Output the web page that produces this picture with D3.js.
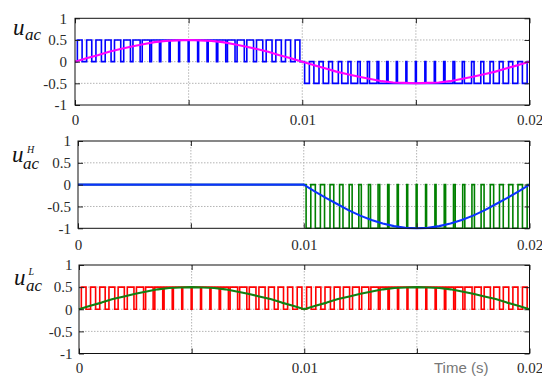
<!DOCTYPE html>
<html>
<head>
<meta charset="utf-8">
<script src="https://cdn.jsdelivr.net/npm/d3@7"></script>
<style>
  html, body { margin: 0; padding: 0; background: #fff; }
  svg { display: block; }
  .tick text { font-family: "Liberation Serif", "Times New Roman", serif; font-size: 15px; fill: #2a2a2a; }
  .ylab { font-family: "Liberation Serif", "Times New Roman", serif; font-style: italic; fill: #111; }
</style>
</head>
<body>
<svg id="chart" width="542" height="376"></svg>
<script>
// ---- data -------------------------------------------------------------
const xTicks = [0, 0.005, 0.01, 0.015, 0.02];
const xTickLabels = ["0", "", "0.01", "", "0.02"];
const yTicks = [-1, -0.5, 0, 0.5, 1];
const yTickLabels = ["-1", "-0.5", "0", "0.5", "1"];

// sample instants of the reference waveforms (s)
const refTime = d3.range(41).map(i => i * 0.0005);

// u_ac reference (half-amplitude sine)
const uacRef = [0, 0.08, 0.15, 0.23, 0.29, 0.35, 0.40, 0.45, 0.48, 0.49, 0.50,
                0.49, 0.48, 0.45, 0.40, 0.35, 0.29, 0.23, 0.15, 0.08, 0,
                -0.08, -0.15, -0.23, -0.29, -0.35, -0.40, -0.45, -0.48, -0.49, -0.50,
                -0.49, -0.48, -0.45, -0.40, -0.35, -0.29, -0.23, -0.15, -0.08, 0];
// u_ac^H reference (zero, then negative full half-wave)
const uacHRef = [0, 0, 0, 0, 0, 0, 0, 0, 0, 0, 0,
                 0, 0, 0, 0, 0, 0, 0, 0, 0, 0,
                 -0.16, -0.31, -0.45, -0.59, -0.71, -0.81, -0.89, -0.95, -0.99, -1,
                 -0.99, -0.95, -0.89, -0.81, -0.71, -0.59, -0.45, -0.31, -0.16, 0];
// u_ac^L reference (rectified half-amplitude sine)
const uacLRef = [0, 0.08, 0.15, 0.23, 0.29, 0.35, 0.40, 0.45, 0.48, 0.49, 0.50,
                 0.49, 0.48, 0.45, 0.40, 0.35, 0.29, 0.23, 0.15, 0.08, 0,
                 0.08, 0.15, 0.23, 0.29, 0.35, 0.40, 0.45, 0.48, 0.49, 0.50,
                 0.49, 0.48, 0.45, 0.40, 0.35, 0.29, 0.23, 0.15, 0.08, 0];

// PWM: fraction of each carrier period spent at the active level
const uacDuty1 = [0.50, 0.54, 0.58, 0.62, 0.66, 0.71, 0.76, 0.80, 0.84, 0.87, 0.89, 0.90,
                  0.90, 0.89, 0.87, 0.84, 0.80, 0.76, 0.71, 0.66, 0.62, 0.58, 0.54, 0.50];
const uacDuty2 = [0.50, 0.54, 0.58, 0.62, 0.66, 0.71, 0.76, 0.80, 0.84, 0.87, 0.89, 0.90,
                  0.90, 0.89, 0.87, 0.84, 0.80, 0.76, 0.71, 0.66, 0.62, 0.58, 0.54, 0.50];
const uacHDuty2 = [0.50, 0.54, 0.58, 0.62, 0.66, 0.71, 0.76, 0.80, 0.84, 0.87, 0.89, 0.90,
                   0.90, 0.89, 0.87, 0.84, 0.80, 0.76, 0.71, 0.66, 0.62, 0.58, 0.54, 0.50];
const uacLDuty1 = [0.50, 0.54, 0.58, 0.62, 0.66, 0.71, 0.76, 0.80, 0.84, 0.87, 0.89, 0.90,
                   0.90, 0.89, 0.87, 0.84, 0.80, 0.76, 0.71, 0.66, 0.62, 0.58, 0.54, 0.50];
const uacLDuty2 = [0.50, 0.54, 0.58, 0.62, 0.66, 0.71, 0.76, 0.80, 0.84, 0.87, 0.89, 0.90,
                   0.90, 0.89, 0.87, 0.84, 0.80, 0.76, 0.71, 0.66, 0.62, 0.58, 0.54, 0.50];

// PWM segments: [start, end, active level, duty list]
const uacPwm  = [[0, 0.01, 0.5, uacDuty1], [0.01, 0.02, -0.5, uacDuty2]];
const uacHPwm = [[0, 0.01, 0, uacDuty1], [0.01, 0.02, -1, uacHDuty2]];
const uacLPwm = [[0, 0.01, 0.5, uacLDuty1], [0.01, 0.02, 0.5, uacLDuty2]];

// ---- drawing ----------------------------------------------------------
const svg = d3.select("#chart");

const panels = [
  { box: [75, 529.5, 18.3, 105], xPad: 9.5, yPad: 8,
    pwm: uacPwm, pwmColor: "#0000ff", ref: uacRef, refColor: "#ff00ff",
    label: { u: [13, 35], ac: [25, 40], sup: null } },
  { box: [78, 529.5, 141, 228.3], xPad: 11, yPad: 7,
    pwm: uacHPwm, pwmColor: "#008000", ref: uacHRef, refColor: "#0a32ff",
    label: { u: [12, 162], ac: [23, 169], sup: ["H", 27, 153] } },
  { box: [79, 529.5, 265, 353.5], xPad: 9, yPad: 6.5,
    pwm: uacLPwm, pwmColor: "#ff0000", ref: uacLRef, refColor: "#118011",
    label: { u: [14, 285], ac: [26, 291], sup: ["L", 28.5, 275] } }
];

function pwmPoints(segments) {
  const pts = [];
  segments.forEach(([t0, t1, level, duties]) => {
    const T = (t1 - t0) / duties.length;
    duties.forEach((d, k) => {
      const s = t0 + k * T;
      const lo = (1 - d) * T / 2;
      pts.push([s, 0], [s + lo, level], [s + lo + d * T, 0]);
    });
  });
  pts.push([segments[segments.length - 1][1], 0]);
  return pts;
}

panels.forEach(p => {
  const [x0, x1, y0, y1] = p.box;
  const x = d3.scaleLinear().domain([0, 0.02]).range([x0, x1]);
  const y = d3.scaleLinear().domain([-1, 1]).range([y1, y0]);
  const g = svg.append("g");

  // grid
  g.append("g").selectAll("line").data(xTicks.slice(1, -1)).join("line")
    .attr("x1", d => x(d)).attr("x2", d => x(d))
    .attr("y1", y0).attr("y2", y1)
    .attr("stroke", "#b4b4b4").attr("stroke-width", 1)
    .attr("stroke-dasharray", "1.5,1.5");
  g.append("g").selectAll("line").data(yTicks.slice(1, -1)).join("line")
    .attr("x1", x0).attr("x2", x1)
    .attr("y1", d => y(d)).attr("y2", d => y(d))
    .attr("stroke", "#b4b4b4").attr("stroke-width", 1)
    .attr("stroke-dasharray", "1.5,1.5");

  // PWM trace
  const step = d3.line().x(d => x(d[0])).y(d => y(d[1])).curve(d3.curveStepAfter);
  g.append("path").datum(pwmPoints(p.pwm))
    .attr("d", step).attr("fill", "none")
    .attr("stroke", p.pwmColor).attr("stroke-width", 1.6);

  // reference waveform
  const line = d3.line().x((d, i) => x(refTime[i])).y(d => y(d));
  g.append("path").datum(p.ref)
    .attr("d", line).attr("fill", "none")
    .attr("stroke", p.refColor).attr("stroke-width", 2.1)
    .attr("stroke-linejoin", "round");

  // axes with inward ticks on all four sides
  const fmtX = (d, i) => xTickLabels[i];
  const fmtY = (d, i) => yTickLabels[i];
  const axB = g.append("g").attr("transform", `translate(0,${y1})`)
    .call(d3.axisBottom(x).tickValues(xTicks).tickFormat(fmtX).tickSize(-5).tickPadding(p.xPad));
  const axT = g.append("g").attr("transform", `translate(0,${y0})`)
    .call(d3.axisTop(x).tickValues(xTicks).tickFormat("").tickSize(-5));
  const axL = g.append("g").attr("transform", `translate(${x0},0)`)
    .call(d3.axisLeft(y).tickValues(yTicks).tickFormat(fmtY).tickSize(-5).tickPadding(p.yPad));
  const axR = g.append("g").attr("transform", `translate(${x1},0)`)
    .call(d3.axisRight(y).tickValues(yTicks).tickFormat("").tickSize(-5));
  [axB, axT, axL, axR].forEach(a => {
    a.attr("font-family", null).attr("font-size", null);
    a.select(".domain").remove();
    a.selectAll(".tick line").attr("stroke", "#222");
  });

  // frame
  g.append("rect").attr("x", x0).attr("y", y0)
    .attr("width", x1 - x0).attr("height", y1 - y0)
    .attr("fill", "none").attr("stroke", "#111").attr("stroke-width", 1);

  // y label u_ac with optional superscript
  const t = g.append("text").attr("class", "ylab");
  t.append("tspan").attr("x", p.label.u[0]).attr("y", p.label.u[1])
    .attr("font-size", 23).text("u");
  t.append("tspan").attr("x", p.label.ac[0]).attr("y", p.label.ac[1])
    .attr("font-size", 17).text("ac");
  if (p.label.sup) {
    t.append("tspan").attr("x", p.label.sup[1]).attr("y", p.label.sup[2])
      .attr("font-size", 10).text(p.label.sup[0]);
  }
});

// x axis title
svg.append("text").attr("x", 434).attr("y", 373)
  .attr("font-family", "'Liberation Sans', Arial, sans-serif")
  .attr("font-size", 15).attr("fill", "#777").text("Time (s)");
</script>
</body>
</html>
